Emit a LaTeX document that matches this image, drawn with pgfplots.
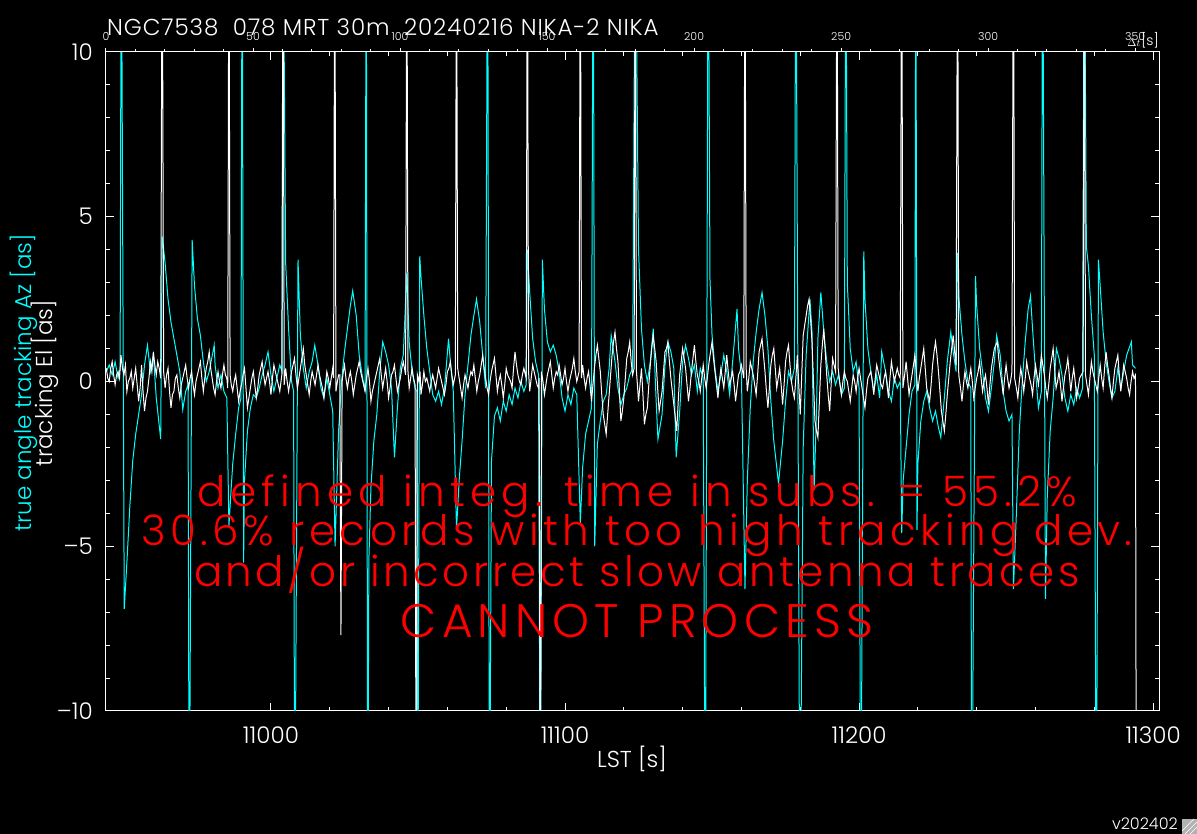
\documentclass[border=0pt]{standalone}
\usepackage{pgfplots}
\pgfplotsset{compat=1.18}
\usepackage{fontspec}
\setmainfont{Poppins}[UprightFont=* Light]
\definecolor{cy}{RGB}{0,255,255}
\definecolor{rd}{RGB}{255,0,0}
\newcommand{\fs}[1]{\fontsize{#1}{#1}\selectfont}
\begin{document}
\begin{tikzpicture}
\fill[black] (-106pt,-123pt) rectangle (1091pt,711pt);
\begin{axis}[
  at={(0pt,0pt)}, anchor=south west,
  scale only axis, width=1053pt, height=659pt,
  xmin=10943.9, xmax=11302, ymin=-10, ymax=10,
  axis line style={white, line width=1pt},
  every tick/.style={white, line width=1pt},
  major tick length=8pt, minor tick length=4pt,
  tick align=inside,
  scaled x ticks=false, scaled y ticks=false,
  xtick={11000,11100,11200,11300},
  xticklabels={11000,11100,11200,11300},
  minor x tick num=4,
  ytick={-10,-5,0,5,10},
  yticklabels={{--10},{--5},0,5,10},
  minor y tick num=4,
  xticklabel style={font=\fs{23}, text=white, anchor=base, inner sep=0pt, yshift=-33pt},
  yticklabel style={font=\fs{23}, text=white, anchor=east, inner sep=0pt, xshift=-13pt},
]
\addplot[cy, line width=1pt] table[row sep=\\] {
10944 0.3\\ 10945 0.5\\ 10946 0.2\\ 10947 0.6\\ 10948 0.1\\ 10948.7 0.4\\ 10949.1 15\\ 10950.1 -6.9\\ 10951 -5.5\\ 10952 -3.8\\
10953 -2.4\\ 10954 -1.6\\ 10955 -1.0\\ 10956 -0.4\\ 10957 0.5\\ 10958 1.1\\ 10959 0.3\\ 10960 0.8\\ 10961 -0.5\\ 10962.5 -1.75\\
10963 4.4\\ 10964 3.6\\ 10965 2.5\\ 10966 1.8\\ 10967 1.3\\ 10968 0.8\\ 10969 0.3\\ 10970 -0.85\\ 10971 -0.3\\ 10971.8 -0.1\\
10972.2 -15\\ 10973.2 4.3\\ 10974 2.9\\ 10975 1.9\\ 10976 1.4\\ 10977 0.6\\ 10978 0.0\\ 10979 0.3\\ 10980.7 1.1\\ 10981 0.5\\
10982 -0.2\\ 10983 0.2\\ 10984 -0.3\\ 10985 -0.5\\ 10985.7 -4.4\\ 10986.5 -3.2\\ 10987 -2.5\\ 10988 -1.6\\ 10989 -0.8\\ 10989.8 -0.5\\
10990.2 15\\ 10990.7 -5.5\\ 10991 -3.0\\ 10992 -1.5\\ 10993 -0.8\\ 10994 -0.4\\ 10995 -0.5\\ 10996 -0.2\\ 10997 0.2\\ 10998 0.5\\
10999 0.9\\ 11000 0.2\\ 11001 -0.3\\ 11002 0.1\\ 11003 0.5\\ 11003.8 0.3\\ 11004.1 15\\ 11005 3.6\\ 11006 1.6\\ 11007 0.0\\
11007.7 -0.3\\ 11008.1 -15\\ 11009.2 3.7\\ 11010 1.4\\ 11011 0.4\\ 11012 -0.2\\ 11013 0.3\\ 11014 0.6\\ 11014.9 1.1\\ 11016 0.5\\
11017 -0.2\\ 11018 -0.5\\ 11019 0.1\\ 11020 -0.4\\ 11021 -0.9\\ 11021.8 -5.0\\ 11023 -1.5\\ 11024 0.0\\ 11025 0.9\\ 11026 1.6\\
11027 2.3\\ 11027.8 2.75\\ 11029 2.0\\ 11030 0.8\\ 11031 0.2\\ 11032 -0.3\\ 11032.4 15\\ 11032.9 -15\\ 11033.3 -5.4\\ 11034 -3.2\\
11035 -1.8\\ 11036 -1.0\\ 11037 0.3\\ 11038 1.2\\ 11039 0.9\\ 11040 0.5\\ 11041 -0.2\\ 11042 -2.3\\ 11043 -0.8\\ 11044 0.4\\
11045 0.8\\ 11046.2 3.3\\ 11047 1.2\\ 11048 0.3\\ 11049 -0.2\\ 11049.6 -0.3\\ 11049.9 -15\\ 11050.6 3.8\\ 11051 3.2\\ 11052 2.0\\
11053 1.0\\ 11054 0.3\\ 11055 -0.4\\ 11056 -0.6\\ 11057 -0.3\\ 11058 -0.7\\ 11059 -0.2\\ 11060.4 1.3\\ 11061 0.6\\ 11062 -0.3\\
11063.1 -4.5\\ 11064 -3.0\\ 11065 -1.8\\ 11066 -0.4\\ 11067 0.5\\ 11068 1.4\\ 11069 2.0\\ 11069.9 2.5\\ 11071 1.8\\ 11072 0.8\\
11073 -0.2\\ 11073.7 15\\ 11074.3 -15\\ 11075 -2.4\\ 11076 -1.05\\ 11077 -0.8\\ 11078 -1.2\\ 11079 -0.6\\ 11080 -0.9\\ 11081 -0.4\\
11082 -0.7\\ 11083 -0.2\\ 11084 -0.5\\ 11085 0.0\\ 11086 -0.3\\ 11086.8 -0.1\\ 11087.2 4.0\\ 11088 2.7\\ 11089 1.3\\ 11090 0.6\\
11091 0.2\\ 11091.6 -15\\ 11092.3 3.7\\ 11093 2.2\\ 11094 1.2\\ 11095 0.9\\ 11096 1.1\\ 11097 0.8\\ 11098 0.3\\ 11099 -0.5\\
11100 -0.9\\ 11101 -0.4\\ 11102 -0.7\\ 11103 -0.2\\ 11104 -0.4\\ 11105.2 -4.3\\ 11106 -2.6\\ 11107 -1.6\\ 11108 -1.2\\ 11109 -0.8\\
11109.6 15\\ 11110.1 -5.0\\ 11111 -1.9\\ 11112 -1.2\\ 11113 -0.6\\ 11114 -0.4\\ 11115 0.4\\ 11115.7 1.4\\ 11117 0.6\\ 11118 -0.2\\
11119 -0.7\\ 11120 -0.4\\ 11121 -0.2\\ 11122 0.2\\ 11123 0.4\\ 11123.9 15\\ 11125 4.0\\ 11126 1.6\\ 11127 0.5\\ 11128 0.0\\
11129 0.6\\ 11130 1.6\\ 11131 -0.6\\ 11131.6 -1.75\\ 11133 -1.0\\ 11134 0.5\\ 11135 1.2\\ 11136 0.9\\ 11137 0.4\\ 11137.8 -2.3\\
11139 -0.9\\ 11140 0.6\\ 11141 1.1\\ 11142 0.7\\ 11143 0.2\\ 11144 0.5\\ 11145 -0.3\\ 11146 0.4\\ 11147 0.1\\ 11147.7 -15\\
11148.7 15\\ 11149.3 3.1\\ 11150 1.4\\ 11151 0.4\\ 11152 -0.3\\ 11153 0.2\\ 11154 0.8\\ 11155 0.3\\ 11156 -0.4\\ 11157 0.6\\
11158.5 2.2\\ 11159 1.0\\ 11160 0.2\\ 11161.2 -6.3\\ 11162 -3.0\\ 11163 -0.8\\ 11164 0.6\\ 11165 1.5\\ 11166 2.2\\ 11167 2.7\\
11168 2.0\\ 11169 1.0\\ 11170 -0.6\\ 11171 -1.8\\ 11172 -2.6\\ 11172.6 -3.1\\ 11174 -1.8\\ 11175 -0.6\\ 11176 0.3\\ 11177 0.0\\
11178 0.4\\ 11178.5 15\\ 11179.9 -15\\ 11181 -2.0\\ 11182 0.8\\ 11183.3 2.5\\ 11184 1.5\\ 11184.7 -3.3\\ 11185.5 -1.0\\ 11186 1.3\\
11187 2.7\\ 11188 1.5\\ 11189 0.6\\ 11190 0.0\\ 11191 0.3\\ 11192 -0.1\\ 11193 0.2\\ 11194 -0.4\\ 11195 -0.2\\ 11195.5 15\\
11196 3.0\\ 11197 1.0\\ 11198 0.3\\ 11199 0.6\\ 11200 -0.2\\ 11200.6 -15\\ 11201.6 3.95\\ 11202 2.5\\ 11203 1.0\\ 11204 0.3\\
11205 -0.3\\ 11206 0.2\\ 11207 -0.5\\ 11207.7 0.9\\ 11209 0.3\\ 11210 -0.3\\ 11211 -0.6\\ 11212 0.1\\ 11213 -0.2\\ 11214 0.0\\
11214.5 -4.6\\ 11215 -3.0\\ 11216 -2.0\\ 11217 -1.0\\ 11218 -0.3\\ 11219 -0.1\\ 11219.3 15\\ 11219.7 -4.5\\ 11220 -2.5\\ 11221 -1.2\\
11222 -0.6\\ 11223 -0.3\\ 11224 -0.8\\ 11225 -1.2\\ 11226 -0.9\\ 11227 -1.4\\ 11227.8 -1.7\\ 11229 -0.5\\ 11230 0.6\\ 11231.2 1.5\\
11232 0.9\\ 11233 0.3\\ 11233.5 3.9\\ 11234 2.5\\ 11235 1.4\\ 11236 0.6\\ 11237 0.0\\ 11238 -0.2\\ 11238.3 -15\\ 11239.6 3.2\\
11240 2.3\\ 11241 1.0\\ 11242 0.3\\ 11243 -0.5\\ 11244 -0.9\\ 11245 -0.2\\ 11246 0.6\\ 11246.8 1.4\\ 11248 0.8\\ 11249 -0.3\\
11250 -0.9\\ 11251 -1.2\\ 11252 -1.0\\ 11252.5 -6.3\\ 11253.5 -4.0\\ 11254.5 -1.5\\ 11255.5 0.0\\ 11256.5 1.2\\ 11257.5 2.2\\ 11258.3 2.6\\
11259 1.6\\ 11260 0.3\\ 11261 -0.8\\ 11262 -0.3\\ 11262.4 15\\ 11263.4 -6.6\\ 11264 -3.5\\ 11265 -1.5\\ 11266 -0.5\\ 11267.1 1.0\\
11268 0.7\\ 11269 0.2\\ 11270 -0.5\\ 11271 -0.9\\ 11272 -0.4\\ 11273 -0.7\\ 11274 -0.2\\ 11275 -0.5\\ 11276 -0.2\\ 11276.6 15\\
11277.3 4.1\\ 11278 3.5\\ 11279 2.0\\ 11280 0.8\\ 11280.7 -15\\ 11281.4 3.7\\ 11282 2.9\\ 11283 1.5\\ 11284 0.6\\ 11285 0.0\\
11286 -0.5\\ 11287 -0.3\\ 11288 0.4\\ 11289 -0.2\\ 11290 0.3\\ 11291 0.8\\ 11292.6 1.2\\ 11293 0.5\\ 11294 0.4\\
};
\addplot[white, line width=1pt] table[row sep=\\] {
10944 0.4\\ 10944.5 0.1\\ 10945 0.0\\ 10945.5 0.4\\ 10946 0.6\\ 10946.5 0.2\\ 10947 -0.1\\ 10947.5 0.2\\ 10948 0.3\\ 10948.5 0.1\\
10949 0.8\\ 10949.5 0.4\\ 10950 0.2\\ 10950.5 0.5\\ 10951 -0.3\\ 10951.5 0.0\\ 10952 0.1\\ 10952.5 0.3\\ 10953 -0.2\\ 10953.5 0.1\\
10954 0.4\\ 10954.5 -0.1\\ 10955 -0.6\\ 10955.5 -0.2\\ 10956 0.5\\ 10956.5 -0.3\\ 10957 -0.9\\ 10957.5 -0.5\\ 10958 -0.3\\ 10958.5 0.1\\
10959 0.6\\ 10959.5 0.3\\ 10960 0.9\\ 10960.5 0.5\\ 10961 0.2\\ 10961.5 0.6\\ 10962 0.4\\ 10962.5 0.1\\ 10963 15\\ 10963.5 0.3\\
10964 -0.2\\ 10964.5 0.2\\ 10965 0.4\\ 10965.5 -0.3\\ 10966 -0.8\\ 10966.5 -0.4\\ 10967 -0.3\\ 10967.5 0.1\\ 10968 0.2\\ 10968.5 -0.2\\
10969 -0.5\\ 10969.5 -0.1\\ 10970 0.1\\ 10970.5 0.3\\ 10971 0.5\\ 10971.5 0.1\\ 10972 -0.2\\ 10972.5 0.1\\ 10973 0.3\\ 10973.5 -0.1\\
10974 -0.4\\ 10974.5 0.0\\ 10975 0.2\\ 10975.5 0.4\\ 10976 0.6\\ 10976.5 0.1\\ 10977 -0.3\\ 10977.5 0.1\\ 10978 0.4\\ 10978.5 0.6\\
10979 0.9\\ 10979.5 0.4\\ 10980 0.1\\ 10980.5 -0.2\\ 10981 -0.4\\ 10981.5 0.0\\ 10982 0.3\\ 10982.5 0.0\\ 10983 -0.2\\ 10983.5 0.2\\
10984 0.5\\ 10984.5 0.2\\ 10985 0.1\\ 10985.3 -0.2\\ 10985.7 15\\ 10986.1 0.2\\ 10986.5 -0.1\\ 10987 -0.3\\ 10987.5 0.0\\ 10988 0.2\\
10988.5 -0.2\\ 10989 -0.6\\ 10989.5 -0.3\\ 10990 -0.1\\ 10990.5 0.2\\ 10991 0.4\\ 10991.5 -0.2\\ 10992 -0.8\\ 10992.5 -0.5\\ 10993 -0.2\\
10993.5 0.1\\ 10994 0.3\\ 10994.5 -0.1\\ 10995 -0.5\\ 10995.5 -0.2\\ 10996 0.2\\ 10996.5 0.4\\ 10997 0.6\\ 10997.5 0.2\\ 10998 -0.1\\
10998.5 0.1\\ 10999 0.3\\ 10999.5 0.0\\ 11000 -0.4\\ 11000.5 0.1\\ 11001 0.5\\ 11001.5 0.3\\ 11002 0.1\\ 11002.5 -0.1\\ 11003 -0.3\\
11003.7 0.2\\ 11004.1 15\\ 11004.5 -0.1\\ 11005 0.4\\ 11005.5 0.0\\ 11006 -0.3\\ 11006.5 0.0\\ 11007 0.3\\ 11007.5 0.5\\ 11008 0.7\\
11008.5 0.2\\ 11009 -0.2\\ 11009.5 0.1\\ 11010 0.4\\ 11010.5 0.7\\ 11011 1.0\\ 11011.5 0.5\\ 11012 0.2\\ 11012.5 -0.1\\ 11013 -0.4\\
11013.5 0.0\\ 11014 0.3\\ 11014.5 0.1\\ 11015 -0.1\\ 11015.5 0.2\\ 11016 0.5\\ 11016.5 0.2\\ 11017 0.0\\ 11017.5 -0.2\\ 11018 -0.5\\
11018.5 -0.1\\ 11019 0.3\\ 11019.5 0.1\\ 11020 -0.2\\ 11020.5 0.1\\ 11021 0.4\\ 11021.3 0.1\\ 11021.7 15\\ 11022.1 -0.3\\ 11022.6 0.0\\
11023 0.2\\ 11023.4 0.2\\ 11023.8 -7.7\\ 11024.2 0.0\\ 11024.6 0.3\\ 11025 0.5\\ 11025.5 0.1\\ 11026 -0.2\\ 11026.5 0.1\\ 11027 0.3\\
11027.5 0.0\\ 11028 -0.4\\ 11028.5 -0.1\\ 11029 0.2\\ 11029.5 0.4\\ 11030 0.6\\ 11030.5 0.3\\ 11031 0.1\\ 11031.5 -0.1\\ 11032 -0.3\\
11032.5 0.1\\ 11033 0.4\\ 11033.5 0.0\\ 11034 -0.6\\ 11034.5 -0.3\\ 11035 -0.1\\ 11035.5 0.1\\ 11036 0.3\\ 11036.5 0.5\\ 11037 0.7\\
11037.5 0.2\\ 11038 -0.2\\ 11038.5 0.1\\ 11039 0.4\\ 11039.5 0.0\\ 11040 -0.5\\ 11040.5 -0.2\\ 11041 0.2\\ 11041.5 0.3\\ 11042 0.5\\
11042.5 0.1\\ 11043 -0.3\\ 11043.5 -0.1\\ 11044 0.1\\ 11044.5 0.4\\ 11045 0.6\\ 11045.8 0.2\\ 11046.2 15\\ 11046.6 0.3\\ 11047 -0.2\\
11047.5 0.1\\ 11048 0.4\\ 11048.5 0.1\\ 11049 -0.1\\ 11049.4 -15\\ 11049.8 0.2\\ 11050.3 0.0\\ 11050.7 0.3\\ 11051 -0.4\\ 11051.5 -0.1\\
11052 0.3\\ 11052.5 0.0\\ 11053 0.1\\ 11053.5 -0.1\\ 11054 -0.3\\ 11054.5 0.0\\ 11055 0.2\\ 11055.5 0.0\\ 11056 -0.2\\ 11056.5 0.1\\
11057 0.4\\ 11057.5 0.2\\ 11058 0.0\\ 11058.5 -0.2\\ 11059 -0.4\\ 11059.5 -0.1\\ 11060 0.3\\ 11060.5 0.4\\ 11061 0.6\\ 11061.5 0.2\\
11062 -0.1\\ 11062.7 0.2\\ 11063.1 15\\ 11063.5 0.4\\ 11064 0.1\\ 11064.5 -0.2\\ 11065 -0.5\\ 11065.5 -0.1\\ 11066 0.2\\ 11066.5 0.0\\
11067 -0.2\\ 11067.5 0.1\\ 11068 0.3\\ 11068.5 0.2\\ 11069 0.5\\ 11069.5 0.1\\ 11070 -0.3\\ 11070.5 0.0\\ 11071 0.2\\ 11071.5 0.5\\
11072 0.8\\ 11072.5 0.4\\ 11073 0.1\\ 11073.5 -0.2\\ 11074 -0.4\\ 11074.5 0.0\\ 11075 0.3\\ 11075.5 0.5\\ 11076 0.7\\ 11076.5 0.2\\
11077 -0.3\\ 11077.5 0.0\\ 11078 0.2\\ 11078.5 -0.1\\ 11079 -0.5\\ 11079.5 -0.1\\ 11080 0.4\\ 11080.5 0.2\\ 11081 0.1\\ 11081.5 0.0\\
11082 -0.2\\ 11082.5 0.4\\ 11083 0.9\\ 11083.5 0.5\\ 11084 0.2\\ 11084.5 0.0\\ 11085 -0.1\\ 11085.5 0.2\\ 11086 0.4\\ 11086.8 0.1\\
11087.2 15\\ 11087.6 0.3\\ 11088 -0.3\\ 11088.5 0.1\\ 11089 0.5\\ 11089.5 0.3\\ 11090 0.1\\ 11090.5 -0.1\\ 11091 -0.2\\ 11091.2 0.1\\
11091.6 -15\\ 11092 0.3\\ 11092.5 0.0\\ 11093 -0.4\\ 11093.5 -0.1\\ 11094 0.2\\ 11094.5 0.4\\ 11095 0.6\\ 11095.5 0.2\\ 11096 -0.2\\
11096.5 0.1\\ 11097 0.3\\ 11097.5 0.2\\ 11098 0.5\\ 11098.5 0.2\\ 11099 -0.1\\ 11099.5 0.1\\ 11100 0.4\\ 11100.5 0.0\\ 11101 -0.3\\
11101.5 0.0\\ 11102 0.2\\ 11102.5 0.4\\ 11103 0.7\\ 11103.5 0.3\\ 11104 0.0\\ 11104.8 0.3\\ 11105.2 15\\ 11105.6 0.1\\ 11106 0.5\\
11106.5 0.1\\ 11107 -0.2\\ 11107.5 0.1\\ 11108 0.3\\ 11108.5 -0.1\\ 11109 -0.6\\ 11109.5 -0.1\\ 11110 0.4\\ 11110.5 0.8\\ 11111 1.1\\
11111.5 0.7\\ 11112 0.3\\ 11112.5 -0.4\\ 11113 -1.0\\ 11113.5 -1.3\\ 11114 -1.6\\ 11114.5 -1.0\\ 11115 -0.4\\ 11115.5 0.2\\ 11116 0.8\\
11116.5 1.2\\ 11117 1.5\\ 11117.5 1.0\\ 11118 0.6\\ 11118.5 -0.3\\ 11119 -1.2\\ 11119.5 -0.9\\ 11120 -0.5\\ 11120.5 0.1\\ 11121 0.7\\
11121.5 0.9\\ 11122 1.2\\ 11122.5 0.6\\ 11123 0.2\\ 11123.5 0.4\\ 11123.9 15\\ 11124.3 0.3\\ 11124.7 -0.2\\ 11125 -0.6\\ 11125.5 -0.1\\
11126 0.4\\ 11126.5 -0.4\\ 11127 -1.3\\ 11127.5 -1.0\\ 11128 -0.8\\ 11128.5 -0.1\\ 11129 0.5\\ 11129.5 1.0\\ 11130 1.4\\ 11130.5 1.0\\
11131 0.6\\ 11131.5 -0.2\\ 11132 -0.9\\ 11132.5 -0.6\\ 11133 -0.3\\ 11133.5 0.3\\ 11134 0.9\\ 11134.5 1.0\\ 11135 1.2\\ 11135.5 0.6\\
11136 0.1\\ 11136.5 -0.3\\ 11137 -0.7\\ 11137.5 -1.1\\ 11138 -1.5\\ 11138.5 -0.6\\ 11139 0.2\\ 11139.5 0.6\\ 11140 1.0\\ 11140.5 0.7\\
11141 0.4\\ 11141.5 -0.1\\ 11142 -0.6\\ 11142.5 -0.2\\ 11143 0.3\\ 11143.5 0.7\\ 11144 1.1\\ 11144.5 0.6\\ 11145 0.2\\ 11145.5 0.0\\
11146 -0.3\\ 11146.5 0.1\\ 11147 0.5\\ 11147.5 0.1\\ 11148 -0.2\\ 11148.5 0.2\\ 11149 0.6\\ 11149.5 0.9\\ 11150 1.2\\ 11150.5 0.7\\
11151 0.3\\ 11151.5 -0.1\\ 11152 -0.5\\ 11152.5 0.0\\ 11153 0.4\\ 11153.5 0.1\\ 11154 -0.2\\ 11154.5 0.3\\ 11155 0.8\\ 11155.5 0.3\\
11156 -0.1\\ 11156.5 0.1\\ 11157 0.3\\ 11157.5 -0.1\\ 11158 -0.6\\ 11158.5 -0.2\\ 11159 0.2\\ 11159.5 0.3\\ 11160 0.5\\ 11160.8 0.1\\
11161.2 15\\ 11161.6 0.4\\ 11162 -0.3\\ 11162.5 0.1\\ 11163 0.6\\ 11163.5 0.4\\ 11164 0.2\\ 11164.5 -0.1\\ 11165 -0.4\\ 11165.5 0.2\\
11166 0.9\\ 11166.5 1.1\\ 11167 1.3\\ 11167.5 0.8\\ 11168 0.3\\ 11168.5 -0.3\\ 11169 -0.8\\ 11169.5 -0.2\\ 11170 0.5\\ 11170.5 0.8\\
11171 1.0\\ 11171.5 0.4\\ 11172 -0.2\\ 11172.5 0.1\\ 11173 0.4\\ 11173.5 -0.1\\ 11174 -0.7\\ 11174.5 -0.1\\ 11175 0.6\\ 11175.5 0.9\\
11176 1.1\\ 11176.5 0.5\\ 11177 0.0\\ 11177.5 -0.3\\ 11178 -0.5\\ 11178.5 0.1\\ 11179 0.8\\ 11179.5 -0.1\\ 11180 -1.0\\ 11180.5 0.2\\
11181 1.4\\ 11181.5 1.7\\ 11182 2.0\\ 11182.5 2.3\\ 11183 2.5\\ 11183.5 1.9\\ 11184 1.2\\ 11184.5 0.0\\ 11185 -1.2\\ 11185.5 -1.5\\
11186 -1.7\\ 11186.5 -0.6\\ 11187 0.5\\ 11187.5 1.1\\ 11188 1.6\\ 11188.5 0.9\\ 11189 0.2\\ 11189.5 -0.4\\ 11190 -0.9\\ 11190.5 -0.1\\
11191 0.7\\ 11191.5 0.5\\ 11192 0.3\\ 11192.5 15\\ 11192.9 0.4\\ 11193.4 0.0\\ 11194 -0.4\\ 11194.5 0.0\\ 11195 0.3\\ 11195.5 0.1\\
11196 0.0\\ 11196.5 -0.3\\ 11197 -0.6\\ 11197.5 -0.2\\ 11198 0.2\\ 11198.5 0.0\\ 11199 -0.3\\ 11199.5 0.1\\ 11200 0.4\\ 11200.5 0.1\\
11201 -0.2\\ 11201.5 -0.5\\ 11202 -0.8\\ 11202.5 -0.3\\ 11203 0.1\\ 11203.5 0.2\\ 11204 0.3\\ 11204.5 0.0\\ 11205 -0.4\\ 11205.5 0.1\\
11206 0.5\\ 11206.5 0.3\\ 11207 0.1\\ 11207.5 -0.1\\ 11208 -0.2\\ 11208.5 0.1\\ 11209 0.3\\ 11209.5 -0.1\\ 11210 -0.5\\ 11210.5 0.1\\
11211 0.6\\ 11211.5 0.3\\ 11212 0.0\\ 11212.5 0.2\\ 11213 0.4\\ 11213.5 0.2\\ 11214 0.1\\ 11214.5 15\\ 11214.9 -0.2\\ 11215.5 0.2\\
11216 0.6\\ 11216.5 0.1\\ 11217 -0.4\\ 11217.5 -0.1\\ 11218 0.2\\ 11218.5 0.5\\ 11219 0.8\\ 11219.5 0.2\\ 11220 -0.3\\ 11220.5 0.1\\
11221 0.4\\ 11221.5 0.7\\ 11222 1.0\\ 11222.5 0.4\\ 11223 -0.2\\ 11223.5 -0.4\\ 11224 -0.6\\ 11224.5 -0.1\\ 11225 0.5\\ 11225.5 0.9\\
11226 1.2\\ 11226.5 0.8\\ 11227 0.3\\ 11227.5 -0.3\\ 11228 -0.9\\ 11228.5 -1.2\\ 11229 -1.5\\ 11229.5 -1.0\\ 11230 -0.4\\ 11230.5 0.1\\
11231 0.6\\ 11231.5 1.0\\ 11232 1.4\\ 11232.5 0.9\\ 11233 0.5\\ 11233.5 15\\ 11233.9 0.2\\ 11234.5 -0.2\\ 11235 -0.6\\ 11235.5 -0.1\\
11236 0.3\\ 11236.5 0.0\\ 11237 -0.2\\ 11237.5 0.1\\ 11238 0.4\\ 11238.5 0.0\\ 11239 -0.5\\ 11239.5 -0.2\\ 11240 0.1\\ 11240.5 0.3\\
11241 0.6\\ 11241.5 0.1\\ 11242 -0.3\\ 11242.5 0.0\\ 11243 0.2\\ 11243.5 -0.2\\ 11244 -0.7\\ 11244.5 -0.1\\ 11245 0.4\\ 11245.5 0.7\\
11246 1.0\\ 11246.5 1.1\\ 11247 1.2\\ 11247.5 0.7\\ 11248 0.3\\ 11248.5 0.0\\ 11249 -0.4\\ 11249.5 0.1\\ 11250 0.5\\ 11250.5 0.1\\
11251 -0.2\\ 11251.5 0.0\\ 11252 0.3\\ 11252.5 15\\ 11252.9 0.1\\ 11253.5 -0.2\\ 11254 -0.5\\ 11254.5 0.0\\ 11255 0.4\\ 11255.5 0.1\\
11256 -0.3\\ 11256.5 0.1\\ 11257 0.6\\ 11257.5 0.3\\ 11258 0.1\\ 11258.5 -0.1\\ 11259 -0.4\\ 11259.5 0.1\\ 11260 0.5\\ 11260.5 0.2\\
11261 -0.1\\ 11261.5 0.3\\ 11262 0.8\\ 11262.5 0.5\\ 11263 0.2\\ 11263.5 -0.2\\ 11264 -0.5\\ 11264.5 -0.1\\ 11265 0.4\\ 11265.5 0.7\\
11266 1.0\\ 11266.5 0.4\\ 11267 -0.2\\ 11267.5 0.0\\ 11268 0.3\\ 11268.5 -0.1\\ 11269 -0.6\\ 11269.5 -0.2\\ 11270 0.2\\ 11270.5 0.4\\
11271 0.7\\ 11271.5 0.2\\ 11272 -0.3\\ 11272.5 0.1\\ 11273 0.4\\ 11273.5 0.0\\ 11274 -0.5\\ 11274.5 -0.2\\ 11275 0.1\\ 11275.6 0.2\\
11276.2 0.3\\ 11276.6 15\\ 11277 0.2\\ 11277.5 -0.1\\ 11278 -0.4\\ 11278.5 0.1\\ 11279 0.6\\ 11279.5 0.3\\ 11280 0.1\\ 11280.5 -0.1\\
11281 -0.3\\ 11281.5 0.1\\ 11282 0.5\\ 11282.5 0.1\\ 11283 -0.2\\ 11283.5 0.4\\ 11284 0.9\\ 11284.5 0.5\\ 11285 0.2\\ 11285.5 -0.2\\
11286 -0.5\\ 11286.5 0.0\\ 11287 0.4\\ 11287.5 0.6\\ 11288 0.8\\ 11288.5 0.2\\ 11289 -0.3\\ 11289.5 0.1\\ 11290 0.5\\ 11290.5 0.3\\
11291 0.1\\ 11291.5 -0.2\\ 11292 -0.4\\ 11292.5 0.0\\ 11293 0.3\\ 11293.5 0.1\\ 11294 0.2\\ 11294.3 -15\\
};
\end{axis}
\begin{axis}[
  at={(0pt,0pt)}, anchor=south west,
  scale only axis, width=1053pt, height=659pt,
  xmin=0, xmax=358.1, ymin=0, ymax=1,
  axis x line*=top, axis y line=none,
  x axis line style={white, line width=1pt, -},
  every tick/.style={white, line width=1pt},
  tick align=outside,
  major tick length=4pt, minor tick length=2.5pt,
  xtick={0,50,100,150,200,250,300,350},
  xticklabels={0,50,100,150,200,250,300,350},
  minor x tick num=4,
  xticklabel style={font=\fs{11}, text=white, anchor=base, inner sep=0pt, yshift=7pt},
]
\addplot[draw=none] coordinates {(0,0)};
\end{axis}
\node[anchor=base west, text=white, font=\fs{23}\addfontfeature{LetterSpace=4}, inner sep=0pt] at (1pt,675pt) {NGC7538\ \ 078 MRT 30m\ \ 20240216 NIKA-2 NIKA};
\node[anchor=base, text=white, font=\fs{11}, inner sep=0pt] at (1028pt,664pt) {$\Delta t$};
\node[anchor=base, text=white, font=\fs{14}, inner sep=0pt] at (1044pt,665pt) {[s]};
\node[anchor=base, text=white, font=\fs{23}, inner sep=0pt] at (526pt,-57pt) {LST [s]};
\node[anchor=base, text=cy, font=\fs{23}, inner sep=0pt, rotate=90] at (-74pt,328pt) {true angle tracking Az [as]};
\node[anchor=base, text=white, font=\fs{23}, inner sep=0pt, rotate=90] at (-53pt,328pt) {tracking El [as]};
\node[anchor=base, text=rd, font=\fs{42}\addfontfeature{LetterSpace=12.3}, inner sep=0pt] at (531pt,204pt) {defined integ. time in subs. = 55.2\%};
\node[anchor=base, text=rd, font=\fs{42}\addfontfeature{LetterSpace=10.4}, inner sep=0pt] at (531pt,165pt) {30.6\% records with too high tracking dev.};
\node[anchor=base, text=rd, font=\fs{42}\addfontfeature{LetterSpace=8.3}, inner sep=0pt] at (531pt,124pt) {and/or incorrect slow antenna traces};
\node[anchor=base, text=rd, font=\fs{47}\addfontfeature{LetterSpace=11}, inner sep=0pt] at (531pt,73pt) {CANNOT PROCESS};
\node[anchor=base east, text=white, font=\fs{16}, inner sep=0pt] at (1072pt,-119pt) {v202402};
\fill[gray!60] (1076pt,-123pt) rectangle (1091pt,-108pt);
\draw[white, line width=0.6pt] (1079pt,-123pt) -- (1091pt,-111pt) (1084pt,-123pt) -- (1091pt,-116pt) (1076pt,-120pt) -- (1088pt,-108pt);
\pgfresetboundingbox
\path (-106pt,-123pt) rectangle (1091pt,711pt);
\end{tikzpicture}
\end{document}
